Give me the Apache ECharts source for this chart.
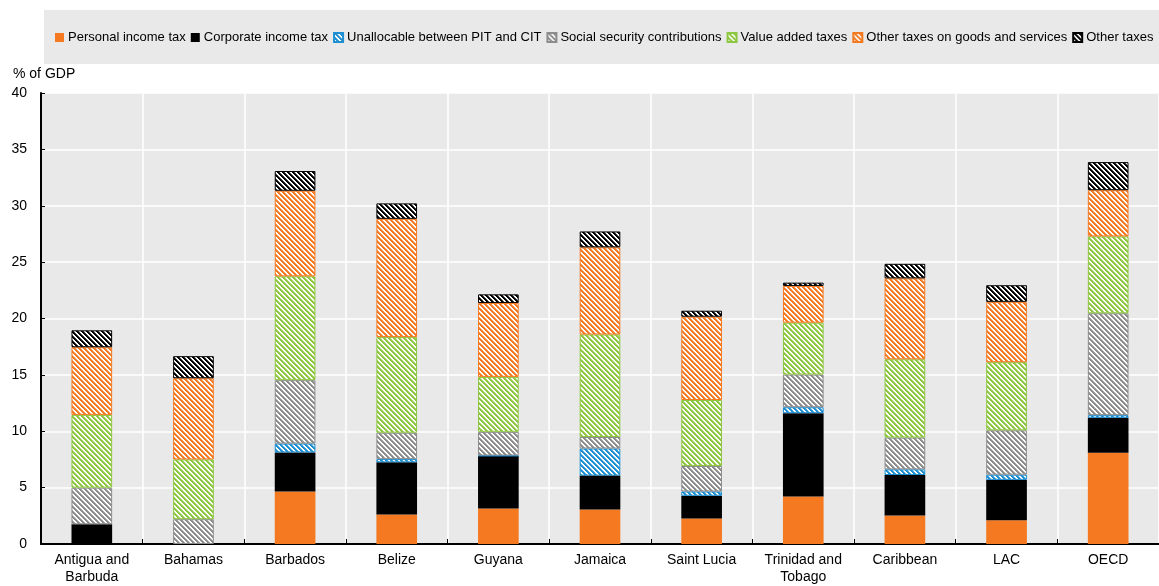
<!DOCTYPE html>
<html>
<head>
<meta charset="utf-8">
<script src="https://cdn.jsdelivr.net/npm/echarts@6/dist/echarts.min.js"></script>
<style>html,body{margin:0;padding:0;background:#fff}#c{width:1159px;height:586px}</style>
</head>
<body>
<div id="c"></div>
<script>
var categories = ['Antigua and\nBarbuda','Bahamas','Barbados','Belize','Guyana','Jamaica','Saint Lucia','Trinidad and\nTobago','Caribbean','LAC','OECD'];
var seriesNames = ['Personal income tax','Corporate income tax','Unallocable between PIT and CIT','Social security contributions','Value added taxes','Other taxes on goods and services','Other taxes'];
var pit      = [0,    0,    4.66, 2.61, 3.14, 3.05, 2.26, 4.22, 2.52, 2.11, 8.09];
var cit      = [1.75, 0,    3.46, 4.63, 4.66, 3.02, 2.02, 7.38, 3.60, 3.58, 3.10];
var unalloc  = [0,    0,    0.79, 0.29, 0.05, 2.40, 0.38, 0.53, 0.50, 0.46, 0.24];
var ssc      = [3.25, 2.20, 5.62, 2.34, 2.10, 1.02, 2.26, 2.90, 2.82, 3.93, 9.03];
var vat      = [6.45, 5.30, 9.21, 8.48, 4.87, 9.09, 5.85, 4.60, 6.94, 6.04, 6.82];
var otherGS  = [6.00, 7.20, 7.59, 10.49,6.56, 7.73, 7.39, 3.26, 7.18, 5.36, 4.10];
var otherTax = [1.50, 1.96, 1.75, 1.37, 0.76, 1.41, 0.53, 0.29, 1.29, 1.47, 2.49];
var yTicks = [0,5,10,15,20,25,30,35,40];

var FONT = '"Liberation Sans", Arial, sans-serif';
var colors = ['#f47920','#000000','#1d8fd2','#8c8c8c','#8dc63f','#f47920','#000000'];
var hatched = [false,false,true,true,true,true,true];

function hexToRgb(h){
  return [parseInt(h.substr(1,2),16), parseInt(h.substr(3,2),16), parseInt(h.substr(5,2),16)];
}
function makePattern(col){
  var s = 5;
  var cv = document.createElement('canvas');
  cv.width = s; cv.height = s;
  var ctx = cv.getContext('2d');
  var img = ctx.createImageData(s, s);
  var rgb = hexToRgb(col);
  for (var y = 0; y < s; y++) {
    for (var x = 0; x < s; x++) {
      var k = (((x - y) % s) + s) % s;
      var a = k < 2 ? 1 : (k === 2 ? 0.75 : 0);
      var idx = (y * s + x) * 4;
      img.data[idx]   = Math.round(rgb[0] * a + 255 * (1 - a));
      img.data[idx+1] = Math.round(rgb[1] * a + 255 * (1 - a));
      img.data[idx+2] = Math.round(rgb[2] * a + 255 * (1 - a));
      img.data[idx+3] = 255;
    }
  }
  ctx.putImageData(img, 0, 0);
  return {image: cv, repeat: 'repeat'};
}

var dataArrays = [pit, cit, unalloc, ssc, vat, otherGS, otherTax];
var series = seriesNames.map(function(n,i){
  return {
    name: n,
    type: 'bar',
    stack: 'total',
    barWidth: '40%',
    data: dataArrays[i].map(function(v){ return v === 0 ? null : v; }),
    itemStyle: {
      color: hatched[i] ? makePattern(colors[i]) : colors[i],
      borderColor: colors[i],
      borderWidth: hatched[i] ? 1 : 0
    },
    emphasis: {disabled: true}
  };
});

var chart = echarts.init(document.getElementById('c'), null, {renderer: 'canvas'});
chart.setOption({
  animation: false,
  backgroundColor: '#ffffff',
  graphic: [
    {type: 'rect', left: 44, top: 10, shape: {width: 1115, height: 54}, style: {fill: '#e9e9e9'}, silent: true, z: -10}
  ],
  legend: {
    left: 55, top: 31, width: 1104,
    itemWidth: 9, itemHeight: 9, itemGap: 5,
    padding: 0,
    icon: 'rect',
    textStyle: {fontFamily: FONT, fontSize: 13, color: '#000', padding: [0,0,0,-1]},
    data: seriesNames
  },
  grid: {left: 41, right: 0, top: 93, bottom: 38, show: true, backgroundColor: '#e9e9e9', borderWidth: 0},
  xAxis: {
    type: 'category',
    data: categories,
    axisLine: {lineStyle: {color: '#000', width: 2}},
    axisTick: {show: true, inside: true, length: 5, lineStyle: {color: '#000', width: 1}},
    splitLine: {show: true, lineStyle: {color: '#ffffff', width: 1.5}},
    axisLabel: {fontFamily: FONT, fontSize: 14, color: '#000', margin: 8, lineHeight: 17}
  },
  yAxis: {
    type: 'value',
    min: 0, max: 40, interval: 5,
    name: '% of GDP',
    nameLocation: 'end',
    nameGap: 12,
    nameTextStyle: {fontFamily: FONT, fontSize: 14, color: '#000', align: 'left', padding: [0,0,0,-28]},
    axisLine: {show: true, lineStyle: {color: '#000', width: 2}},
    axisTick: {show: true, inside: true, length: 4, lineStyle: {color: '#000'}},
    splitLine: {show: true, lineStyle: {color: '#ffffff', width: 1.5}},
    axisLabel: {fontFamily: FONT, fontSize: 14, color: '#000', margin: 14,
      formatter: function(v){ return yTicks.indexOf(v) >= 0 ? String(v) : ''; }}
  },
  series: series
});
</script>
</body>
</html>
